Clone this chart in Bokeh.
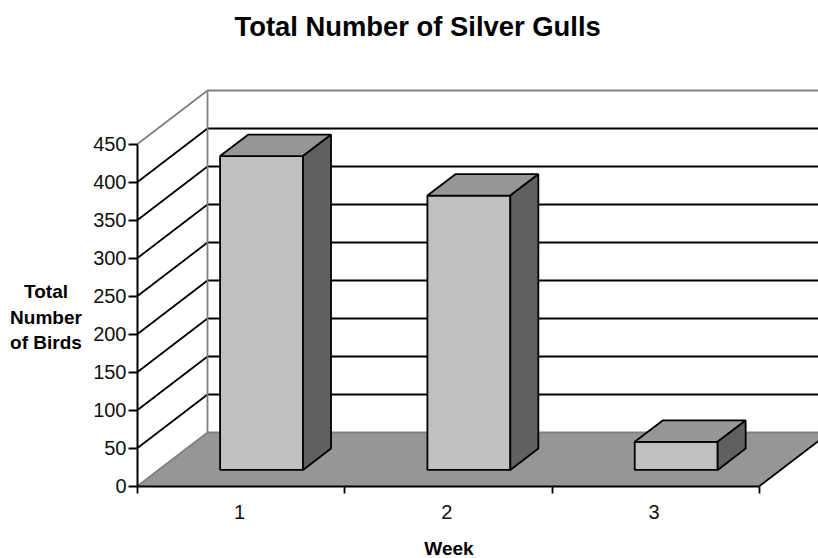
from bokeh.plotting import figure
from bokeh.models import FixedTicker, Label, Range1d
from bokeh.embed import file_html
from bokeh.resources import INLINE

title_text = "Total Number of Silver Gulls"
weeks = ["1", "2", "3"]
birds = [413, 361, 37]
y_ticks = [0, 50, 100, 150, 200, 250, 300, 350, 400, 450]
x_label = "Week"
y_label = ["Total", "Number", "of Birds"]

FONT = "Liberation Sans"
PX_X = 207.33          # pixels per category
PX_Y = 0.76            # pixels per bird
X0, Y0 = 137.0, 485.5  # page position of the axes' origin
DX = 70 / PX_X         # depth of the box, in category units
DY = 53.5 / PX_Y       # depth of the box, in value units
BAR_W = 0.4
C_FRONT, C_TOP, C_SIDE, C_FLOOR, C_WALL = "#c0c0c0", "#969696", "#606060", "#969696", "#808080"
LW = 1.8
AXIS_LW = 2
TOP_BORDER = 44
W, H = 818, 558

fx = lambda px: (px - X0) / PX_X
fy = lambda py: (Y0 - py) / PX_Y

p = figure(width=W, height=H, output_backend="svg", toolbar_location=None,
           x_range=Range1d(fx(0), fx(W)), y_range=Range1d(fy(H), fy(TOP_BORDER)),
           min_border_left=0, min_border_right=0, min_border_bottom=0, min_border_top=TOP_BORDER,
           outline_line_color=None)
p.grid.visible = False

p.title.text = title_text
p.title.align = "left"
p.title.offset = 234
p.title.text_font = FONT
p.title.text_font_style = "bold"
p.title.text_font_size = "27.4px"
p.title.text_color = "black"
p.title.standoff = 5

n = len(weeks)
top = y_ticks[-1]

# floor
p.patch([0, n, n + DX, DX], [0, 0, DY, DY], fill_color=C_FLOOR, line_color=None)
p.line([DX, n + DX], [DY, DY], line_color=C_WALL, line_width=LW)
p.line([0, DX], [0, DY], line_color=C_WALL, line_width=LW)
p.line([n, n + DX], [0, DY], line_color="black", line_width=LW)

# walls and grid lines
for t in y_ticks[1:-1]:
    p.line([0, DX, n + DX], [t, t + DY, t + DY], line_color="black", line_width=LW)
p.line([0, DX, n + DX], [top, top + DY, top + DY], line_color=C_WALL, line_width=LW)
p.line([DX, DX], [DY, top + DY], line_color=C_WALL, line_width=LW)

# bars: front, top and side faces
off_x, off_y = 0.3 * DX - 0.003, 0.3 * DY
bx, by = 0.4 * DX, 0.4 * DY
for i, v in enumerate(birds):
    l = i + 0.5 + off_x - BAR_W / 2
    r = l + BAR_W
    b = off_y
    t = off_y + v
    p.patch([l, r, r, l], [b, b, t, t], fill_color=C_FRONT, line_color="black", line_width=LW)
    p.patch([l, r, r + bx, l + bx], [t, t, t + by, t + by], fill_color=C_TOP, line_color="black", line_width=LW)
    p.patch([r, r + bx, r + bx, r], [b, b + by, t + by, t], fill_color=C_SIDE, line_color="black", line_width=LW)

# axes
ya = p.yaxis[0]
ya.fixed_location = 0
ya.bounds = (0, top)
ya.ticker = FixedTicker(ticks=y_ticks)
ya.major_tick_in = 0
ya.major_tick_out = 9
ya.minor_tick_line_color = None
ya.axis_line_width = AXIS_LW
ya.major_tick_line_width = LW
ya.axis_line_color = "black"
ya.major_tick_line_color = "black"
ya.major_label_text_font = FONT
ya.major_label_text_font_size = "20px"
ya.major_label_text_color = "#111111"
ya.major_label_standoff = 2

xa = p.xaxis[0]
xa.fixed_location = 0
xa.bounds = (0, n)
xa.ticker = FixedTicker(ticks=list(range(n + 1)))
xa.major_label_overrides = {i: "" for i in range(n + 1)}
xa.major_tick_in = 0
xa.major_tick_out = 7
xa.minor_tick_line_color = None
xa.axis_line_width = AXIS_LW
xa.major_tick_line_width = LW
xa.axis_line_color = "black"
xa.major_tick_line_color = "black"

for i, w in enumerate(weeks):
    p.add_layout(Label(x=fx(239) + i, y=fy(511), text=w, text_font=FONT, text_font_size="20px",
                       text_align="center", text_baseline="middle", text_color="#111111"))

p.add_layout(Label(x=fx(448.5), y=fy(548), text=x_label, text_font=FONT, text_font_size="19px",
                   text_font_style="bold", text_align="center", text_baseline="middle", text_color="black"))
for j, s in enumerate(y_label):
    p.add_layout(Label(x=fx(45.5), y=fy(291 + 25.5 * j), text=s, text_font=FONT, text_font_size="19px",
                       text_font_style="bold", text_align="center", text_baseline="middle", text_color="black"))

open("out.html", "w").write(file_html(p, INLINE))
